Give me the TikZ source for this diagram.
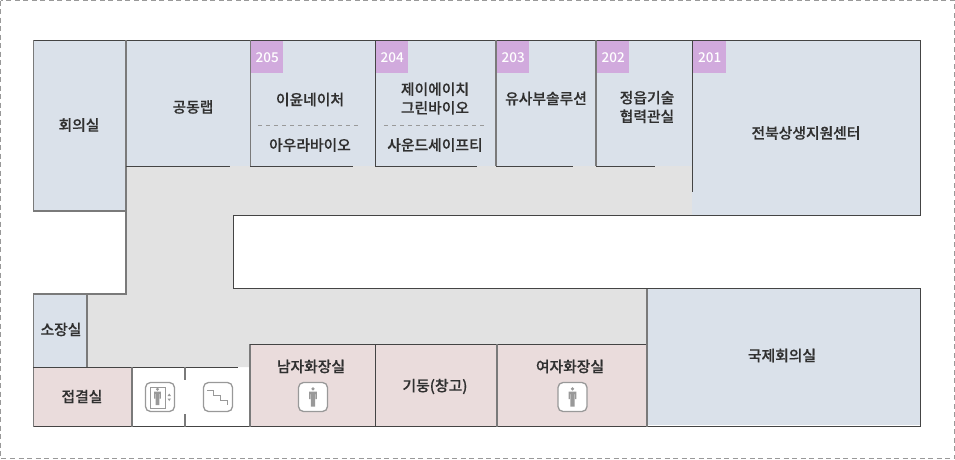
\documentclass[tikz,border=0pt]{standalone}
\usepackage{fontspec}
\setmainfont{Noto Sans CJK KR Medium}[FakeBold=0.25]
\newfontfamily\badgefont{Noto Sans CJK KR Medium}
\usetikzlibrary{calc}
\definecolor{roomblue}{HTML}{DAE1EA}
\definecolor{roompink}{HTML}{EADCDC}
\definecolor{hallgray}{HTML}{E2E2E2}
\definecolor{badgepurple}{HTML}{D1AADD}
\definecolor{wallgray}{HTML}{7A7A7A}
\definecolor{walldark}{HTML}{444444}
\definecolor{inkdark}{HTML}{303030}
\definecolor{icongray}{HTML}{999999}
\tikzset{
  x=1pt,y=-1pt,
  wall/.style={draw=wallgray,line width=1.1pt},
  walld/.style={draw=walldark,line width=1pt},
  label/.style={font=\fontsize{14.8}{18.6}\selectfont,text=inkdark,align=center,inner sep=0pt},
  badge/.style={fill=badgepurple,text=white,font=\badgefont\fontsize{13.5}{15}\selectfont,minimum width=32pt,minimum height=32pt,inner sep=0pt,anchor=north west},
  iconbox/.style={draw=icongray,fill=white,line width=1.3pt,rounded corners=5pt},
}
\newcommand{\personicon}[3]{% x, y centre, scale
  \begin{scope}[shift={(#1,#2)},scale=#3]
    \fill[icongray] (0,-7.5) circle (1.6);
    \fill[icongray] (-3.4,-5.2) -- (3.4,-5.2) -- (3.4,1.5) -- (2.3,1.5) -- (2.3,-3) -- (1.9,-3) -- (1.9,8) -- (0.2,8) -- (0.2,1.5) -- (-0.2,1.5) -- (-0.2,8) -- (-1.9,8) -- (-1.9,-3) -- (-2.3,-3) -- (-2.3,1.5) -- (-3.4,1.5) -- cycle;
  \end{scope}
}
\begin{document}
\begin{tikzpicture}
\useasboundingbox (0,0) rectangle (955,459);
\draw[draw=icongray,line width=1pt,dash pattern=on 5pt off 3.5pt] (0.5,0.5) rectangle (954.5,458.5);
% corridor
\fill[hallgray] (126,166) -- (693,166) -- (693,215) -- (233,215) -- (233,289) -- (647,289) -- (647,344) -- (250,344) -- (250,367) -- (87,367) -- (87,294) -- (126,294) -- cycle;
% room fills
\fill[roomblue] (33,40) rectangle (126,211);
\fill[roomblue] (126,40) rectangle (250,166);
\fill[roomblue] (250,40) rectangle (692,166);
\fill[roomblue] (692,40) rectangle (920,215);
\fill[roomblue] (33,294) rectangle (87,367);
\fill[roomblue] (647,289) rectangle (920,425);
\fill[roompink] (33,367) rectangle (132,427);
\fill[roompink] (250,344) rectangle (647,427);
% walls
\draw[walld] (33,40.5) -- (920.5,40.5) -- (920.5,215.5) -- (233.5,215.5) -- (233.5,288.5) -- (920.5,288.5) -- (920.5,426.5) -- (33,426.5);
\draw[wall] (33.5,40) -- (33.5,211) -- (126,211);
\draw[wall] (126,40) -- (126,294) -- (33.5,294) -- (33.5,427);
\draw[walld] (126,166.5) -- (230,166.5);
\draw[wall] (250.5,40) -- (250.5,166);
\draw[walld] (250,166.5) -- (352.5,166.5);
\draw[walld] (375.5,40) -- (375.5,167);
\draw[walld] (375.5,166.5) -- (476.5,166.5);
\draw[wall] (496,40) -- (496,166);
\draw[walld] (496,166.5) -- (572.5,166.5);
\draw[wall] (596,40) -- (596,166);
\draw[walld] (596,166.5) -- (655,166.5);
\draw[walld] (692.5,40) -- (692.5,191.5);
\draw[wall] (87,294) -- (87,367);
\draw[walld] (33,367.5) -- (237.5,367.5);
\draw[wall] (132,367) -- (132,427);
\draw[wall] (185,367) -- (185,380);
\draw[wall] (185,414) -- (185,427);
\draw[wall] (250,344) -- (250,427);
\draw[walld] (250,344.5) -- (647,344.5);
\draw[walld] (375.5,344) -- (375.5,427);
\draw[wall] (497,344) -- (497,427);
\draw[wall] (647,289) -- (647,427);
% dashed dividers
\draw[draw=icongray,line width=0.6pt,dash pattern=on 4pt off 4pt] (258,125.5) coordinate (da) -- (361,125.5) coordinate (db);
\draw[draw=icongray,line width=0.6pt,dash pattern=on 4pt off 4pt] (384,125.5) coordinate (dc) -- (486,125.5) coordinate (dd);
% badges
\node[badge] (b205) at (251,41) {205};
\node[badge] (b204) at (376,41) {204};
\node[badge] (b203) at (497,41) {203};
\node[badge] (b202) at (597,41) {202};
\node[badge,minimum width=33pt] (b201) at (693,41) {201};
% labels
\node[label] (r1) at (79,125) {회의실};
\node[label] (r2) at (193,107) {공동랩};
\node[label] (r3) at (310,99.5) {이윤네이처};
\node[label] (r4) at (310,145) {아우라바이오};
\node[label] (r5) at (435,98.5) {제이에이치\\그린바이오};
\node[label] (r6) at (435,145) {사운드세이프티};
\node[label] (r7) at (546,98.5) {유사부솔루션};
\node[label] (r8) at (647,107) {정읍기술\\협력관실};
\node[label] (r9) at (806,133) {전북상생지원센터};
\node[label] (r10) at (61,329.5) {소장실};
\node[label] (r11) at (82,396.5) {접결실};
\node[label] (r12) at (311,366.5) {남자화장실};
\node[label] (r13) at (435,386.5) {기둥(창고)};
\node[label] (r14) at (570,366.5) {여자화장실};
\node[label] (r15) at (782,355.5) {국제회의실};
% icons
\draw[iconbox] (145.5,382.5) rectangle (174.5,411.5);
\draw[draw=icongray,line width=0.9pt] (150,387) rectangle (165,408);
\personicon{157.5}{397}{1.02}
\fill[icongray] (167.5,396) -- (171,396) -- (169.25,393.5) -- cycle;
\fill[icongray] (167.5,398.5) -- (171,398.5) -- (169.25,401) -- cycle;
\draw[iconbox] (203.5,382.5) rectangle (232.5,411.5);
\draw[draw=icongray,line width=0.9pt] (207,390.5) -- (213.5,390.5) -- (213.5,395.5) -- (220,395.5) -- (220,400.5) -- (227,400.5) -- (227,405);
\draw[iconbox] (298.5,382.5) rectangle (327.5,411.5);
\personicon{313}{397.5}{1.15}
\draw[iconbox] (558,382.5) rectangle (587,411.5);
\personicon{572.5}{397.5}{1.15}
\end{tikzpicture}
\end{document}
